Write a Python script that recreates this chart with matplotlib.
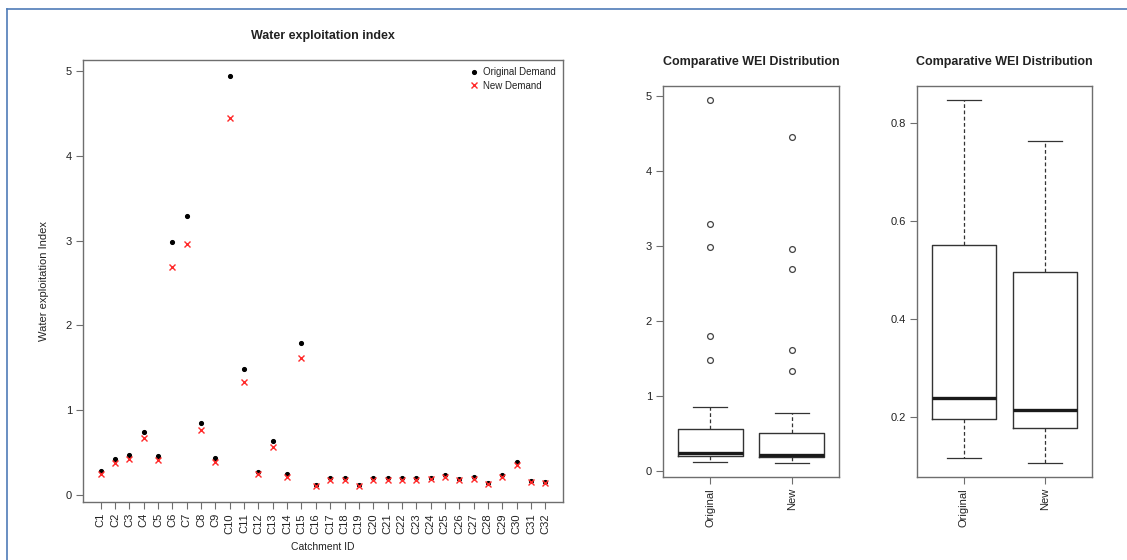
import numpy as np
import matplotlib
matplotlib.use("Agg")
import matplotlib.pyplot as plt
from matplotlib.lines import Line2D

plt.rcParams['font.family'] = ['Liberation Sans', 'DejaVu Sans']

# Catchments and water exploitation index under both demand scenarios
catchments = [f"C{i}" for i in range(1, 33)]
wei_original = [0.28, 0.42, 0.47, 0.744, 0.453, 2.99, 3.29, 0.846, 0.435, 4.94,
                1.48, 0.27, 0.634, 0.243, 1.79, 0.118, 0.20, 0.198, 0.12, 0.198,
                0.20, 0.195, 0.195, 0.20, 0.233, 0.19, 0.205, 0.14, 0.235, 0.39,
                0.16, 0.15]
wei_new = [0.25, 0.378, 0.425, 0.67, 0.413, 2.69, 2.96, 0.764, 0.39, 4.45,
           1.33, 0.245, 0.567, 0.21, 1.61, 0.108, 0.18, 0.18, 0.108, 0.18,
           0.18, 0.178, 0.178, 0.183, 0.215, 0.172, 0.19, 0.128, 0.215, 0.35,
           0.145, 0.14]
group_labels = ["Original", "New"]

W, H = 1127, 560
fig = plt.figure(figsize=(W / 100, H / 100), dpi=100)
fig.patch.set_facecolor("white")

TEXT = "#222222"
FRAME = "#6e6e6e"


def px_rect(x0, y0, x1, y1):
    return [x0 / W, 1 - y1 / H, (x1 - x0) / W, (y1 - y0) / H]


def r_limits(vals, frac=0.04):
    lo, hi = min(vals), max(vals)
    pad = (hi - lo) * frac
    return lo - pad, hi + pad


def style_axes(ax):
    for sp in ax.spines.values():
        sp.set_color(FRAME)
        sp.set_linewidth(1.0)
    ax.tick_params(direction="out", length=5, width=0.8, color=FRAME,
                   labelcolor=TEXT, labelsize=8, pad=3)


def box_stats(vals, label):
    s = np.sort(np.asarray(vals, dtype=float))
    n = len(s)
    n4 = np.floor((n + 3) / 2) / 2
    d = np.array([1, n4, (n + 1) / 2, n + 1 - n4, n]) - 1
    five = 0.5 * (s[np.floor(d).astype(int)] + s[np.ceil(d).astype(int)])
    q1, med, q3 = five[1], five[2], five[3]
    iqr = q3 - q1
    lo_f, hi_f = q1 - 1.5 * iqr, q3 + 1.5 * iqr
    inside = s[(s >= lo_f) & (s <= hi_f)]
    return dict(label=label, med=med, q1=q1, q3=q3,
                whislo=inside.min(), whishi=inside.max(),
                fliers=s[(s < lo_f) | (s > hi_f)])


# ---- Scatter of WEI per catchment ----
ax1 = fig.add_axes(px_rect(83, 60, 563, 502))
style_axes(ax1)
xs = np.arange(1, len(catchments) + 1)
ax1.plot(xs, wei_original, linestyle="none", marker="o", ms=2.7,
         color="black", label="Original Demand")
ax1.plot(xs, wei_new, linestyle="none", marker="x", ms=4.2, mew=1.0,
         color="#ff2a2a", label="New Demand")
ax1.set_xlim(*r_limits(xs))
ax1.set_ylim(*r_limits(wei_original + wei_new))
ax1.set_xticks(xs)
ax1.set_xticklabels(catchments, rotation=90)
ax1.set_yticks([0, 1, 2, 3, 4, 5])
ax1.set_title("Water exploitation index", fontsize=9, fontweight="bold",
              color=TEXT, pad=15)
ax1.set_xlabel("Catchment ID", fontsize=7.5, color=TEXT, labelpad=6)
ax1.set_ylabel("Water exploitation Index", fontsize=8, color=TEXT, labelpad=12)
leg = ax1.legend(loc="upper right", frameon=False, fontsize=7,
                 handlelength=0.8, handletextpad=0.5, borderaxespad=0.35,
                 labelspacing=0.35)
for t in leg.get_texts():
    t.set_color(TEXT)

# ---- Box plots ----
stats = [box_stats(wei_original, group_labels[0]),
         box_stats(wei_new, group_labels[1])]

box_kw = dict(positions=[1, 2], widths=0.8, capwidths=0.42,
              boxprops=dict(color="#333333", linewidth=1.0),
              medianprops=dict(color="#1a1a1a", linewidth=2.4),
              whiskerprops=dict(color="#333333", linewidth=0.9,
                                linestyle=(0, (3, 2))),
              capprops=dict(color="#333333", linewidth=0.9),
              flierprops=dict(marker="o", markerfacecolor="none",
                              markeredgecolor="#444444", markersize=4.2,
                              markeredgewidth=0.9))


def box_panel(rect, show_fliers, yticks, fmt):
    ax = fig.add_axes(rect)
    style_axes(ax)
    ax.bxp(stats, showfliers=show_fliers, **box_kw)
    ax.set_xlim(0.42, 2.58)
    if show_fliers:
        ax.set_ylim(*r_limits(wei_original + wei_new))
    else:
        ax.set_ylim(*r_limits([min(s["whislo"] for s in stats),
                               max(s["whishi"] for s in stats)]))
    ax.set_yticks(yticks)
    ax.set_yticklabels([fmt.format(v) for v in yticks])
    ax.set_xticks([1, 2])
    ax.set_xticklabels(group_labels, rotation=90)
    ax.set_title("Comparative WEI Distribution", fontsize=9,
                 fontweight="bold", color=TEXT, pad=15)
    return ax


box_panel(px_rect(663, 86, 839, 477), True, [0, 1, 2, 3, 4, 5], "{:g}")
box_panel(px_rect(917, 86, 1092, 477), False, [0.2, 0.4, 0.6, 0.8], "{:.1f}")

# Outer frame lines
frame_col = "#4f7cb8"
fig.add_artist(Line2D([7 / W, 1], [1 - 9 / H, 1 - 9 / H],
                      transform=fig.transFigure, color=frame_col, lw=1.2))
fig.add_artist(Line2D([7 / W, 7 / W], [0, 1 - 9 / H],
                      transform=fig.transFigure, color=frame_col, lw=1.2))

fig.savefig("out.png", dpi=100, facecolor="white")
